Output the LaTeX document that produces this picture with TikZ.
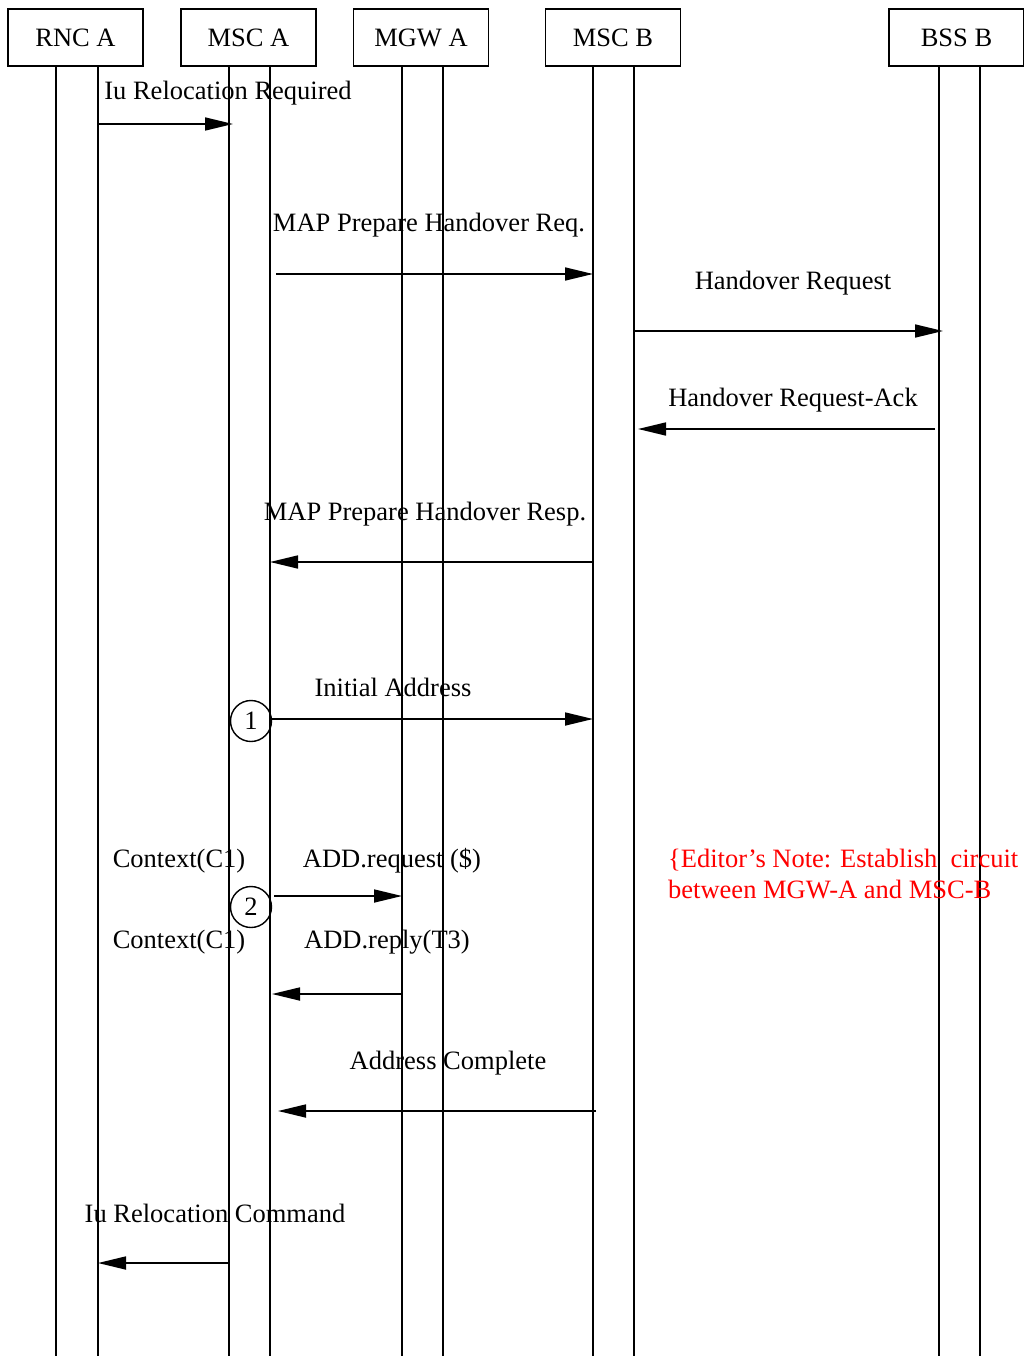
\documentclass[tikz,border=0pt]{standalone}
\usepackage{fontspec}
\setmainfont{Liberation Serif}
\usetikzlibrary{arrows.meta}
\begin{document}
\begin{tikzpicture}[x=1pt,y=1pt,
  every node/.style={font=\fontsize{26.5}{30}\selectfont, inner sep=0pt},
  entity/.style={draw, line width=1.7pt, minimum width=135pt, minimum height=57pt},
  life/.style={line width=1.7pt},
  msg/.style={line width=1.7pt, -{Triangle[length=28pt,width=13pt]}},
  lbl/.style={anchor=base},
  numcircle/.style={draw, circle, line width=1.4pt, minimum size=41pt},
  note/.style={anchor=base west, text=red}]
\useasboundingbox (0,0) rectangle (1023,-1356);

% entity headers
\node[entity] (rnc) at (75.5,-37.5) {RNC A};
\node[entity] (msca) at (248.5,-37.5) {MSC A};
\node[entity] (mgw) at (421,-37.5) {MGW A};
\node[entity] (mscb) at (613,-37.5) {MSC B};
\node[entity] (bss) at (956.5,-37.5) {BSS B};

% double lifelines
\foreach \n/\x in {rnc1/56, rnc2/98, msca1/229, msca2/270, mgw1/402, mgw2/443, mscb1/593, mscb2/634, bss1/939, bss2/980} {
  \coordinate (\n t) at (\x,-66);
  \coordinate (\n b) at (\x,-1356);
  \draw[life] (\n t) -- (\n b);
}

% Iu Relocation Required
\node[lbl] (l1) at (228,-100) {Iu Relocation Required};
\coordinate (a1s) at (98,-124); \coordinate (a1e) at (233,-124);
\draw[msg] (a1s) -- (a1e);

% MAP Prepare Handover Req.
\node[lbl] (l2) at (429,-232) {MAP Prepare Handover Req.};
\coordinate (a2s) at (276,-274); \coordinate (a2e) at (593,-274);
\draw[msg] (a2s) -- (a2e);

% Handover Request
\node[lbl] (l3) at (793,-289) {Handover Request};
\coordinate (a3s) at (634,-331); \coordinate (a3e) at (943,-331);
\draw[msg] (a3s) -- (a3e);

% Handover Request-Ack
\node[lbl] (l4) at (793,-406) {Handover Request-Ack};
\coordinate (a4s) at (935,-429); \coordinate (a4e) at (638,-429);
\draw[msg] (a4s) -- (a4e);

% MAP Prepare Handover Resp.
\node[lbl] (l5) at (425,-520) {MAP Prepare Handover Resp.};
\coordinate (a5s) at (593,-562); \coordinate (a5e) at (270,-562);
\draw[msg] (a5s) -- (a5e);

% Initial Address
\node[lbl] (l6) at (393,-696) {Initial Address};
\node[numcircle] (c1) at (251,-721) {1};
\coordinate (a6e) at (593,-719);
\draw[msg] (c1.east |- a6e) -- (a6e);

% ADD.request
\node[lbl] (ctx1) at (179,-867) {Context(C1)};
\node[lbl] (l7) at (392,-867) {ADD.request (\$)};
\node[numcircle] (c2) at (251,-907) {2};
\coordinate (a7s) at (274,-896); \coordinate (a7e) at (402,-896);
\draw[msg] (a7s) -- (a7e);

% ADD.reply
\node[lbl] (ctx2) at (179,-948) {Context(C1)};
\node[lbl] (l8) at (387,-948) {ADD.reply(T3)};
\coordinate (a8s) at (402,-994); \coordinate (a8e) at (272,-994);
\draw[msg] (a8s) -- (a8e);

% Address Complete
\node[lbl] (l9) at (448,-1069) {Address Complete};
\coordinate (a9s) at (596,-1111); \coordinate (a9e) at (278,-1111);
\draw[msg] (a9s) -- (a9e);

% Iu Relocation Command
\node[lbl] (l10) at (215,-1222) {Iu Relocation Command};
\coordinate (a10s) at (229,-1263); \coordinate (a10e) at (98,-1263);
\draw[msg] (a10s) -- (a10e);

% editor's note
\node[note] (n1) at (668,-867) {\{Editor’s Note: Establish\ \ circuit};
\node[note] (n2) at (668,-898) {between MGW-A and MSC-B};
\end{tikzpicture}
\end{document}
